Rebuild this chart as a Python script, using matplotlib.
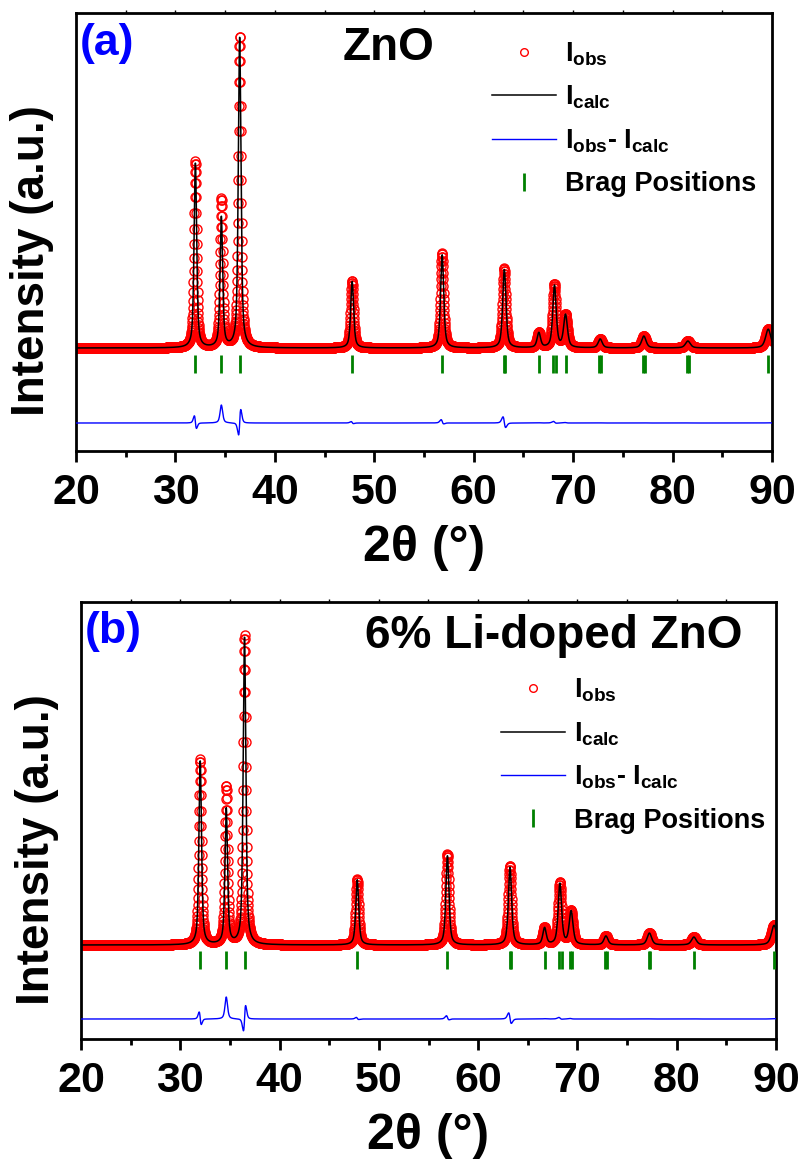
import numpy as np
import matplotlib
matplotlib.use("Agg")
import matplotlib.pyplot as plt

plt.rcParams['font.family'] = ['Liberation Sans', 'DejaVu Sans']
plt.rcParams['font.weight'] = 'bold'
plt.rcParams['axes.labelweight'] = 'bold'
plt.rcParams['mathtext.fontset'] = 'custom'
plt.rcParams['mathtext.rm'] = 'Liberation Sans:bold'
plt.rcParams['mathtext.it'] = 'Liberation Sans:bold'
plt.rcParams['mathtext.bf'] = 'Liberation Sans:bold'

# ---- (a) ZnO : reflections ----
pos_a = [32.00, 34.62, 36.47, 47.77, 56.82, 63.06, 66.55, 68.12, 69.23, 72.72, 77.11, 81.54, 89.62]
fwhm_a = [0.31, 0.31, 0.32, 0.35, 0.37, 0.39, 0.41, 0.41, 0.45, 0.48, 0.53, 0.58, 0.62]
hobs_a = [4650, 3700, 7775, 1675, 2375, 1990, 375, 1575, 825, 225, 300, 175, 475]
hcalc_a = [4620, 3250, 7750, 1660, 2330, 1960, 370, 1550, 815, 222, 297, 173, 470]
dpos_a = [0.008, 0.0, -0.010, 0.004, 0.006, 0.02, 0.0, 0.004, 0.002, 0.0, 0.0, 0.0, 0.0]
bragg_a = [32.00, 34.62, 36.47, 47.77, 56.82, 63.06, 63.18, 66.55, 67.99, 68.29,
           69.30, 72.62, 72.84, 77.00, 77.24, 81.42, 81.68, 89.62]

# ---- (b) 6% Li-doped ZnO ----
pos_b = [32.00, 34.63, 36.48, 47.82, 56.90, 63.19, 66.69, 68.23, 69.36, 72.87, 77.25, 81.73, 89.80]
fwhm_b = [0.31, 0.31, 0.32, 0.35, 0.37, 0.39, 0.41, 0.41, 0.45, 0.48, 0.53, 0.58, 0.62]
hobs_b = [4625, 3950, 7725, 1650, 2275, 1975, 425, 1550, 840, 225, 300, 200, 500]
hcalc_b = [4600, 3400, 7700, 1630, 2230, 1945, 418, 1525, 830, 222, 297, 197, 492]
dpos_b = [0.008, 0.0, -0.010, 0.004, 0.006, 0.02, 0.0, 0.004, 0.002, 0.0, 0.0, 0.0, 0.0]
bragg_b = [32.00, 34.63, 36.48, 47.82, 56.90, 63.19, 63.30, 66.69, 68.16, 68.44,
           69.30, 69.44, 72.82, 73.00, 77.20, 77.32, 81.73, 89.80]

tt = np.arange(20.0, 90.001, 0.02)


def pvoigt(x, x0, w, h, eta=0.6):
    u = (x - x0) / w
    return h * (eta / (1 + 4 * u**2) + (1 - eta) * np.exp(-4 * np.log(2) * u**2))


def pattern(pos, fwhm, heights, shift=None):
    y = np.zeros_like(tt)
    for i in range(len(pos)):
        p = pos[i] + (shift[i] if shift is not None else 0.0)
        y += pvoigt(tt, p, fwhm[i], heights[i])
    return y


def panel(ax, pos, fwhm, hobs, hcalc, dpos, bragg, ylim, diff_off, bragg_y, leg_anchor):
    iobs = pattern(pos, fwhm, hobs)
    icalc = pattern(pos, fwhm, hcalc, dpos)
    ax.plot(tt, iobs, 'o', mfc='none', mec='#ff0000', ms=6.5, mew=1.0, label=r'$I_{obs}$', zorder=2)
    ax.plot(tt, icalc, '-', color='black', lw=1.1, label=r'$I_{calc}$', zorder=3)
    ax.plot(tt, iobs - icalc + diff_off, '-', color='#0000ff', lw=1.0,
            label=r'$I_{obs}$- $I_{calc}$', zorder=3)
    ax.plot(bragg, [bragg_y] * len(bragg), '|', color='#008000', ms=12.5, mew=2,
            label='Brag Positions', zorder=3)
    ax.set_xlim(20, 90)
    ax.set_ylim(*ylim)
    ax.set_xticks(np.arange(20, 91, 10))
    ax.set_xticks(np.arange(25, 90, 10), minor=True)
    ax.set_yticks([])
    ax.tick_params(axis='x', which='major', direction='out', length=8, width=2,
                   labelsize=31, pad=8)
    ax.tick_params(axis='x', which='minor', direction='out', length=4, width=2)
    top = ax.secondary_xaxis('top')
    top.set_xticks(np.arange(25, 90, 5))
    top.tick_params(direction='out', length=2.5, width=1, labeltop=False)
    top.spines['top'].set_visible(False)
    for s in ax.spines.values():
        s.set_linewidth(2)
    leg = ax.legend(loc='upper left', bbox_to_anchor=leg_anchor, frameon=False, fontsize=19.5,
                    handlelength=2.37, handletextpad=0.33, labelspacing=0.6, numpoints=1,
                    borderaxespad=0, borderpad=0)
    leg.legend_handles[0].set_markersize(5.5)
    ax.set_xlabel('2θ (°)', fontsize=36, fontweight='bold')
    ax.xaxis.set_label_coords(0.5, -0.17)
    ax.xaxis.label.set_va('top')


W, H = 802, 1160
fig = plt.figure(figsize=(W / 100, H / 100), dpi=100)
ax1 = fig.add_axes([76 / W, 1 - 451 / H, 696 / W, 438 / H])
ax2 = fig.add_axes([81 / W, 1 - 1039 / H, 695 / W, 437 / H])

panel(ax1, pos_a, fwhm_a, hobs_a, hcalc_a, dpos_a, bragg_a, (-2575, 8375), -1875, -412, (0.597, 0.938))
panel(ax2, pos_b, fwhm_b, hobs_b, hcalc_b, dpos_b, bragg_b, (-2350, 8575), -1850, -375, (0.604, 0.83))

fig.text(107 / W, 1 - 44 / H, '(a)', color='#0000ff', fontsize=32, ha='center', va='center')
fig.text(388 / W, 1 - 48 / H, 'ZnO', fontsize=33, ha='center', va='center')
fig.text(113 / W, 1 - 632 / H, '(b)', color='#0000ff', fontsize=32, ha='center', va='center')
fig.text(554 / W, 1 - 636 / H, '6% Li-doped ZnO', fontsize=33, ha='center', va='center')
fig.text(32 / W, 1 - 261 / H, 'Intensity (a.u.)', fontsize=33, rotation=90, ha='center', va='center')
fig.text(37 / W, 1 - 850 / H, 'Intensity (a.u.)', fontsize=33, rotation=90, ha='center', va='center')

fig.savefig('out.png', dpi=100)
